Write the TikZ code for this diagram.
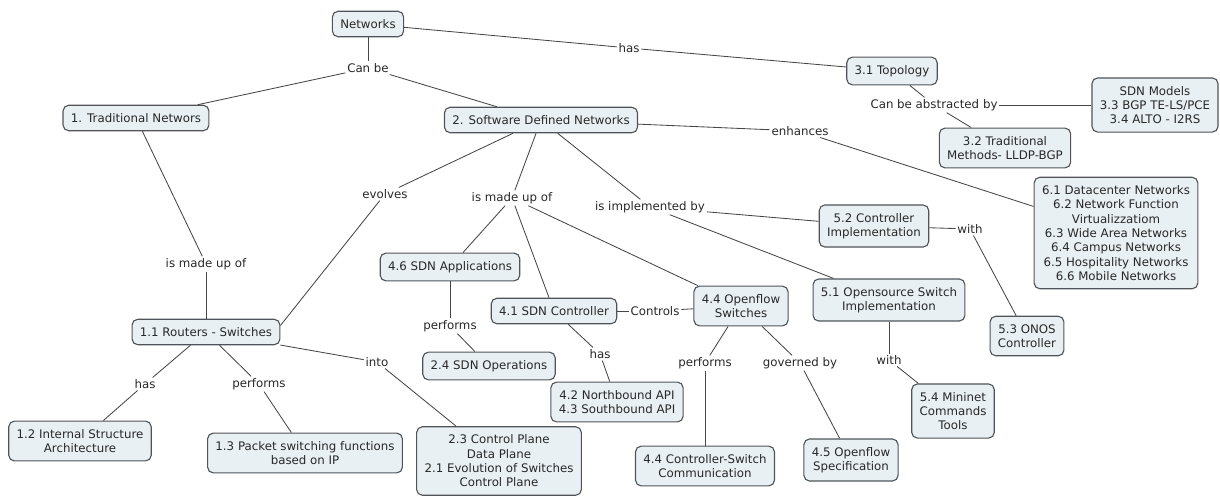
\documentclass[tikz,border=0pt]{standalone}
\usepackage{fontspec}
\setmainfont{DejaVu Sans}
\usetikzlibrary{positioning,calc}
\definecolor{cmapfill}{RGB}{233,240,243}
\definecolor{cmapedge}{RGB}{80,84,88}
\definecolor{cmapline}{RGB}{70,70,70}
\definecolor{cmaptext}{RGB}{40,40,40}

\begin{document}
\begin{tikzpicture}[
  on grid, font=\fontsize{8.4}{10.2}\selectfont, text=cmaptext,
  concept/.style={rectangle, rounded corners=4pt, draw=cmapedge, line width=0.8pt,
    fill=cmapfill, align=center, inner xsep=5.6pt, inner ysep=5.8pt},
  lbl/.style={inner sep=1.2pt, align=center},
  link/.style={draw=cmapline, line width=0.6pt}]
\node[concept] (net) {Networks};
\useasboundingbox ($(net)+(-92mm,6mm)$) rectangle ($(net)+(213mm,-118mm)$);
\node[lbl, below=11mm of net] (canbe) {Can be};
\node[concept, below left=12.5mm and 58mm of canbe] (trad) {1. Traditional Networs};
\node[concept, below right=13mm and 43.25mm of canbe] (sdn) {2. Software Defined Networks};
\node[lbl, below right=6mm and 65.25mm of net] (has0) {has};
\node[concept, below right=11.75mm and 131mm of net] (topo) {3.1 Topology};
\node[lbl, below right=8.5mm and 10.5mm of topo] (abstr) {Can be abstracted by};
\node[concept, right=55.25mm of abstr] (models) {SDN Models\\3.3 BGP TE-LS/PCE\\3.4 ALTO - I2RS};
\node[concept, below right=10.75mm and 17.75mm of abstr] (tradm) {3.2 Traditional\\Methods- LLDP-BGP};
\node[lbl, below right=2.75mm and 64.75mm of sdn] (enh) {enhances};
\node[concept, below right=25.5mm and 79mm of enh] (usecase) {6.1 Datacenter Networks\\6.2 Network Function\\Virtualizzatiom\\6.3 Wide Area Networks\\6.4 Campus Networks\\6.5 Hospitality Networks\\6.6 Mobile Networks};
\node[lbl, below right=36.5mm and 17.5mm of trad] (made1) {is made up of};
\node[concept, below=17mm of made1] (routers) {1.1 Routers - Switches};
\node[lbl, below left=13mm and 15.25mm of routers] (has1) {has};
\node[concept, below left=14.25mm and 16.25mm of has1] (inner) {1.2 Internal Structure\\Architecture};
\node[lbl, below right=13mm and 13.25mm of routers] (perf1) {performs};
\node[concept, below right=17.25mm and 11.5mm of perf1] (packet) {1.3 Packet switching functions\\based on IP};
\node[lbl, below right=7.5mm and 42.75mm of routers] (into) {into};
\node[concept, below right=24.75mm and 30.5mm of into] (planes) {2.3 Control Plane\\Data Plane\\2.1 Evolution of Switches\\Control Plane};
\node[lbl, below left=18.5mm and 39mm of sdn] (evolves) {evolves};
\node[lbl, below left=19.5mm and 7.25mm of sdn] (made2) {is made up of};
\node[lbl, below right=21.75mm and 27.25mm of sdn] (impl) {is implemented by};
\node[concept, below left=17.25mm and 15.5mm of made2] (sdnapps) {4.6 SDN Applications};
\node[lbl, below=14.75mm of sdnapps] (perf2) {performs};
\node[concept, below right=10mm and 9.75mm of perf2] (ops) {2.4 SDN Operations};
\node[concept, below right=28.25mm and 10.5mm of made2] (ctrl) {4.1 SDN Controller};
\node[lbl, below right=10.75mm and 11.5mm of ctrl] (has2) {has};
\node[concept, below right=12mm and 4.25mm of has2] (apis) {4.2 Northbound API\\4.3 Southbound API};
\node[lbl, right=25.25mm of ctrl] (controls) {Controls};
\node[concept, above right=1.25mm and 21.5mm of controls] (ofsw) {4.4 Openflow\\Switches};
\node[lbl, below left=14.25mm and 9mm of ofsw] (perf3) {performs};
\node[concept, below=25.75mm of perf3] (cscomm) {4.4 Controller-Switch\\Communication};
\node[lbl, below right=14.25mm and 14.75mm of ofsw] (gov) {governed by};
\node[concept, below right=24.25mm and 12.75mm of gov] (spec) {4.5 Openflow\\Specification};
\node[concept, below right=4.75mm and 56mm of impl] (ctrlimpl) {5.2 Controller\\Implementation};
\node[lbl, below right=0.75mm and 24mm of ctrlimpl] (with1) {with};
\node[concept, below right=26.75mm and 14.25mm of with1] (onos) {5.3 ONOS\\Controller};
\node[concept, below right=23.25mm and 59.75mm of impl] (swimpl) {5.1 Opensource Switch\\Implementation};
\node[lbl, below=15mm of swimpl] (with2) {with};
\node[concept, below right=12.75mm and 16mm of with2] (mininet) {5.4 Mininet\\Commands\\Tools};
\foreach \a/\b in {net/canbe, canbe/trad, canbe/sdn, net/has0, has0/topo, topo/abstr,
    abstr/models, abstr/tradm, sdn/enh, enh/usecase, trad/made1, made1/routers,
    routers/has1, has1/inner, routers/perf1, perf1/packet, routers/into, into/planes,
    sdn/evolves, evolves/routers.5, sdn/made2, made2/sdnapps, made2/ctrl, made2/ofsw,
    sdnapps/perf2, perf2/ops, ctrl/has2, has2/apis, ctrl/controls, controls/ofsw,
    ofsw/perf3, perf3/cscomm, ofsw/gov, gov/spec, sdn/impl, impl/ctrlimpl, impl/swimpl,
    ctrlimpl/with1, with1/onos, swimpl/with2, with2/mininet}
  \draw[link] (\a) -- (\b);
\end{tikzpicture}
\end{document}
